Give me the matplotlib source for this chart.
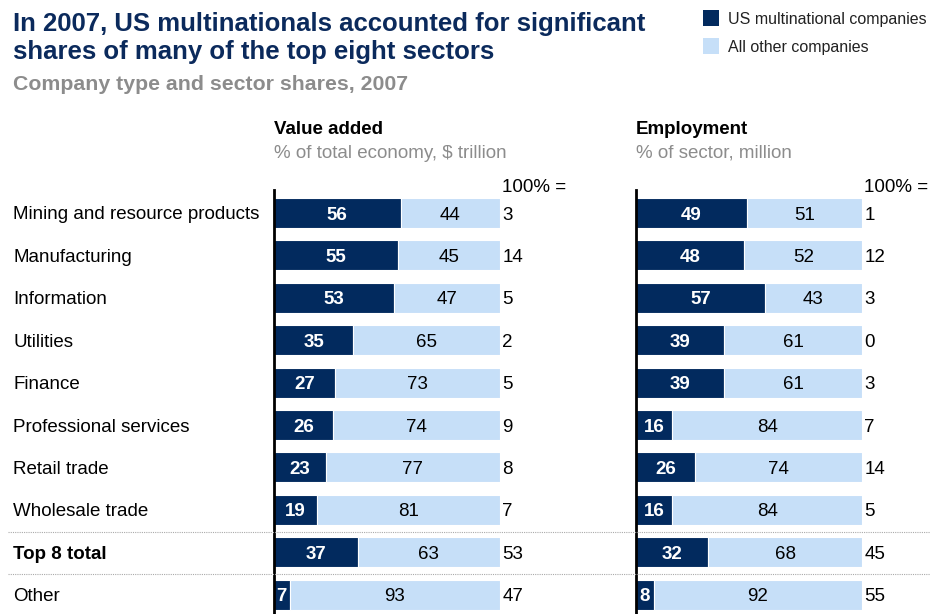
import matplotlib
matplotlib.use('Agg')
import matplotlib.pyplot as plt
from matplotlib.lines import Line2D

plt.rcParams['font.family'] = ['Liberation Sans', 'DejaVu Sans']

sectors = ["Mining and resource products", "Manufacturing", "Information", "Utilities",
           "Finance", "Professional services", "Retail trade", "Wholesale trade",
           "Top 8 total", "Other"]

va_us = [56, 55, 53, 35, 27, 26, 23, 19, 37, 7]
va_other = [44, 45, 47, 65, 73, 74, 77, 81, 63, 93]
va_total = [3, 14, 5, 2, 5, 9, 8, 7, 53, 47]

emp_us = [49, 48, 57, 39, 39, 16, 26, 16, 32, 8]
emp_other = [51, 52, 43, 61, 61, 84, 74, 84, 68, 92]
emp_total = [1, 12, 3, 0, 3, 7, 14, 5, 45, 55]

DARK = "#022a5e"
LIGHT = "#c6dff8"
NAVY = "#0b2a5c"
GRAY = "#8c8c8c"
FS = 13.5

W, H = 930, 614
fig = plt.figure(figsize=(W / 100, H / 100), dpi=100)
fig.patch.set_facecolor("white")


def fx(px):
    return px / W


def fy(py):
    return 1 - py / H


# titulo y leyenda
fig.text(fx(13), fy(21), "In 2007, US multinationals accounted for significant",
         fontsize=18.5, fontweight='bold', color=NAVY, va='center_baseline')
fig.text(fx(13), fy(49), "shares of many of the top eight sectors",
         fontsize=18.5, fontweight='bold', color=NAVY, va='center_baseline')
fig.text(fx(13), fy(82), "Company type and sector shares, 2007",
         fontsize=15.3, fontweight='bold', color=GRAY, va='center_baseline')

for py, col, lab in [(18, DARK, "US multinational companies"), (46, LIGHT, "All other companies")]:
    fig.patches.append(plt.Rectangle((fx(703), fy(py + 8)), fx(16), 16 / H,
                                     transform=fig.transFigure, facecolor=col, edgecolor='none'))
    fig.text(fx(728), fy(py), lab, fontsize=11.5, color="#222222", va='center_baseline')

n = len(sectors)
row_h = 42.4
top_px = 190
ylim = (top_px - 213) / row_h
ybot = ylim + (H - top_px) / row_h


def panel(x0, us, other, total, head, sub):
    ax = fig.add_axes([fx(x0), 0, fx(226), fy(top_px)])
    ys = list(range(n))
    ax.barh(ys, us, height=0.71, color=DARK, edgecolor='white', linewidth=0.8)
    ax.barh(ys, other, left=us, height=0.71, color=LIGHT, edgecolor='white', linewidth=0.8)
    for y, a, b, t in zip(ys, us, other, total):
        ax.text(a / 2, y, str(a), ha='center', va='center_baseline', color='white',
                fontsize=FS, fontweight='bold')
        ax.text(a + b / 2, y, str(b), ha='center', va='center_baseline', color='black', fontsize=FS)
        ax.text(101, y, str(t), ha='left', va='center_baseline', color='black', fontsize=FS)
    ax.set_xlim(0, 100)
    ax.set_ylim(ybot, ylim)
    for s in ['top', 'right', 'bottom']:
        ax.spines[s].set_visible(False)
    ax.spines['left'].set_linewidth(2)
    ax.set_xticks([])
    ax.set_yticks([])
    ax.patch.set_alpha(0)
    fig.text(fx(x0), fy(128), head, fontsize=FS, fontweight='bold', color='black',
             va='center_baseline')
    fig.text(fx(x0), fy(151), sub, fontsize=FS, color=GRAY, va='center_baseline')
    fig.text(fx(x0 + 228), fy(186), "100% =", fontsize=FS, color='black', va='center_baseline')
    return ax


panel(274, va_us, va_other, va_total, "Value added", "% of total economy, $ trillion")
panel(636, emp_us, emp_other, emp_total, "Employment", "% of sector, million")

# etiquetas de sector
for i, s in enumerate(sectors):
    fig.text(fx(13), fy(213 + row_h * i), s, fontsize=FS, va='center_baseline', color='black',
             fontweight='bold' if s == "Top 8 total" else 'normal')

# separadores punteados
for py in [532, 574]:
    fig.lines.append(Line2D([fx(8), 1], [fy(py), fy(py)], transform=fig.transFigure,
                            color="#aaaaaa", linewidth=0.8, linestyle=(0, (1, 1))))

fig.savefig("out.png", dpi=100, facecolor='white')
plt.close(fig)
